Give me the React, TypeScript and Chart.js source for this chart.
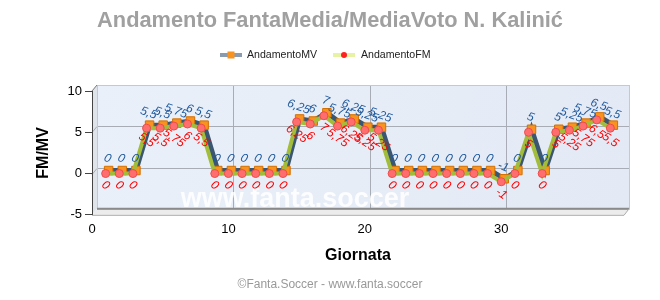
import React, { useEffect, useRef } from 'react';
import { Chart, registerables } from 'chart.js';

Chart.register(...registerables);

const rounds = [1, 2, 3, 4, 5, 6, 7, 8, 9, 10, 11, 12, 13, 14, 15, 16, 17, 18, 19, 20, 21, 22, 23, 24, 25, 26, 27, 28, 29, 30, 31, 32, 33, 34, 35, 36, 37, 38];
const mvValues = [0, 0, 0, 5.5, 5.5, 5.75, 6, 5.5, 0, 0, 0, 0, 0, 0, 6.25, 6, 7, 5.75, 6.25, 5.25, 5.25, 0, 0, 0, 0, 0, 0, 0, 0, -1, 0, 5, 0, 5, 5.25, 5.75, 6.5, 5.5];
const fmValues = [0, 0, 0, 5.5, 5.5, 5.75, 6, 5.5, 0, 0, 0, 0, 0, 0, 6.25, 6, 7, 5.75, 6.25, 5.25, 5.25, 0, 0, 0, 0, 0, 0, 0, 0, -1, 0, 5, 0, 5, 5.25, 5.75, 6.5, 5.5];
const xTicks = [0, 10, 20, 30];
const yTicks = [-5, 0, 5, 10];

const titleText = 'Andamento FantaMedia/MediaVoto N. Kalinić';
const footerText = '©Fanta.Soccer - www.fanta.soccer';
const watermarkText = 'www.fanta.soccer';
const FONT = '"Liberation Sans", Arial, sans-serif';

const DX = 5;
const DY = 6;
const MV_SHIFT = { x: 3, y: -3 };

const fmt = (v: number) => String(v).replace('.', ',');

const wallsPlugin = {
  id: 'walls',
  beforeDraw(chart: any) {
    const { ctx, chartArea } = chart;
    const { left, right, top, bottom } = chartArea;
    const xs = chart.scales.x;
    const ys = chart.scales.y;
    ctx.save();
    const g = ctx.createLinearGradient(left, top, right, bottom);
    g.addColorStop(0, '#eaf0f9');
    g.addColorStop(1, '#e4eaf5');
    ctx.fillStyle = g;
    ctx.fillRect(left + DX, top - DY, right - left, bottom - top);
    ctx.fillStyle = '#dfe3ea';
    ctx.beginPath();
    ctx.moveTo(left, top);
    ctx.lineTo(left + DX, top - DY);
    ctx.lineTo(left + DX, bottom - DY);
    ctx.lineTo(left, bottom);
    ctx.closePath();
    ctx.fill();
    ctx.fillStyle = '#ececec';
    ctx.beginPath();
    ctx.moveTo(left, bottom);
    ctx.lineTo(left + DX, bottom - DY);
    ctx.lineTo(right + DX, bottom - DY);
    ctx.lineTo(right, bottom);
    ctx.closePath();
    ctx.fill();
    ctx.strokeStyle = '#a8acb4';
    ctx.lineWidth = 1;
    xTicks.forEach((v) => {
      if (v === 0) return;
      const px = Math.round(xs.getPixelForValue(v) + DX) + 0.5;
      ctx.beginPath();
      ctx.moveTo(px, top - DY);
      ctx.lineTo(px, bottom - DY);
      ctx.stroke();
    });
    yTicks.forEach((v) => {
      if (v === -5 || v === 10) return;
      const py = Math.round(ys.getPixelForValue(v) - DY) + 0.5;
      ctx.beginPath();
      ctx.moveTo(left + DX, py);
      ctx.lineTo(right + DX, py);
      ctx.stroke();
      ctx.beginPath();
      ctx.moveTo(left, py + DY);
      ctx.lineTo(left + DX, py);
      ctx.stroke();
    });
    ctx.strokeStyle = '#c4c8d0';
    ctx.strokeRect(left + DX + 0.5, top - DY + 0.5, right - left, bottom - top);
    ctx.strokeStyle = '#8a8a8a';
    ctx.lineWidth = 2;
    ctx.beginPath();
    ctx.moveTo(left + DX, bottom - DY);
    ctx.lineTo(right + DX, bottom - DY);
    ctx.stroke();
    ctx.strokeStyle = '#aaaaaa';
    ctx.lineWidth = 1;
    ctx.beginPath();
    ctx.moveTo(left, bottom + 0.5);
    ctx.lineTo(right, bottom + 0.5);
    ctx.lineTo(right + DX, bottom - DY);
    ctx.stroke();
    ctx.strokeStyle = '#777';
    ctx.beginPath();
    ctx.moveTo(left, top);
    ctx.lineTo(left + DX, top - DY);
    ctx.stroke();
    ctx.restore();
  },
  beforeDatasetsDraw(chart: any) {
    const { ctx, chartArea } = chart;
    ctx.save();
    ctx.font = `bold 27px ${FONT}`;
    ctx.fillStyle = 'rgba(255,255,255,0.85)';
    ctx.textAlign = 'center';
    ctx.textBaseline = 'alphabetic';
    ctx.fillText(watermarkText, chartArea.left + 203, chartArea.bottom - 8);
    ctx.restore();
  },
  beforeDatasetDraw(chart: any, args: any) {
    if (args.index === 0) {
      chart.ctx.save();
      chart.ctx.translate(MV_SHIFT.x, MV_SHIFT.y);
    }
  },
  afterDatasetDraw(chart: any, args: any) {
    if (args.index === 0) {
      chart.ctx.restore();
    }
  },
  afterDatasetsDraw(chart: any) {
    const { ctx } = chart;
    ctx.save();
    ctx.font = `italic 12px ${FONT}`;
    ctx.textAlign = 'center';
    ctx.textBaseline = 'middle';
    const mvMeta = chart.getDatasetMeta(0);
    mvMeta.data.forEach((pt: any, i: number) => {
      ctx.save();
      ctx.translate(pt.x + MV_SHIFT.x - 1, pt.y + MV_SHIFT.y - 12);
      ctx.rotate((20 * Math.PI) / 180);
      ctx.fillStyle = '#1f5a9e';
      ctx.fillText(fmt(mvValues[i]), 0, 0);
      ctx.restore();
    });
    const fmMeta = chart.getDatasetMeta(1);
    fmMeta.data.forEach((pt: any, i: number) => {
      ctx.save();
      ctx.translate(pt.x, pt.y + 12);
      ctx.rotate((35 * Math.PI) / 180);
      ctx.fillStyle = '#ff0000';
      ctx.fillText(fmt(fmValues[i]), 0, 0);
      ctx.restore();
    });
    ctx.restore();
  },
  afterDraw(chart: any) {
    const { ctx } = chart;
    ctx.save();
    const y = 47;
    ctx.strokeStyle = '#8a9bb0';
    ctx.lineWidth = 4;
    ctx.beginPath();
    ctx.moveTo(212, y);
    ctx.lineTo(234, y);
    ctx.stroke();
    ctx.fillStyle = '#f7931e';
    ctx.fillRect(219.5, y - 3.5, 7, 7);
    ctx.strokeStyle = '#e8f2a4';
    ctx.beginPath();
    ctx.moveTo(325, y);
    ctx.lineTo(347, y);
    ctx.stroke();
    ctx.fillStyle = '#ff2020';
    ctx.beginPath();
    ctx.arc(336, y, 3, 0, Math.PI * 2);
    ctx.fill();
    ctx.font = `10.6px ${FONT}`;
    ctx.fillStyle = '#222';
    ctx.textAlign = 'left';
    ctx.textBaseline = 'middle';
    ctx.fillText('AndamentoMV', 239, y);
    ctx.fillText('AndamentoFM', 353, y);
    ctx.restore();
  },
};

export default function App() {
  const ref = useRef<HTMLCanvasElement>(null);

  useEffect(() => {
    if (!ref.current) return;
    Chart.defaults.font.family = FONT;
    const chart = new Chart(ref.current, {
      type: 'line',
      data: {
        datasets: [
          {
            label: 'AndamentoMV',
            data: rounds.map((r, i) => ({ x: r, y: mvValues[i] })),
            borderColor: '#3b5670',
            borderWidth: 5,
            pointStyle: 'rect',
            pointRadius: 6,
            pointBackgroundColor: '#f7931e',
            pointBorderColor: '#d46f00',
            pointBorderWidth: 1,
            order: 2,
            clip: false,
          },
          {
            label: 'AndamentoFM',
            data: rounds.map((r, i) => ({ x: r, y: fmValues[i] })),
            borderColor: '#a2bc3c',
            borderWidth: 4,
            pointStyle: 'circle',
            pointRadius: 4,
            pointBackgroundColor: '#ff6e6e',
            pointBorderColor: '#f24a4a',
            pointBorderWidth: 1,
            order: 1,
            clip: false,
          },
        ],
      },
      options: {
        animation: false,
        responsive: true,
        maintainAspectRatio: false,
        layout: { padding: 0 },
        plugins: {
          legend: { display: false },
          tooltip: { enabled: false },
          title: {
            display: true,
            text: titleText,
            color: '#a0a0a0',
            font: { size: 21.8, weight: 'bold', family: FONT },
            padding: { top: 0, bottom: 56.84 },
          },
          subtitle: {
            display: true,
            text: footerText,
            position: 'bottom',
            color: '#999999',
            font: { size: 12, family: FONT },
            padding: { top: 0, bottom: 0 },
          },
        },
        scales: {
          x: {
            type: 'linear',
            min: 0,
            max: 39,
            afterFit: (s: any) => {
              s.height = 62.8;
            },
            afterBuildTicks: (s: any) => {
              s.ticks = xTicks.map((v) => ({ value: v }));
            },
            ticks: {
              padding: 7,
              color: '#000',
              font: { size: 13, family: FONT },
              maxRotation: 0,
            },
            grid: { display: false, drawOnChartArea: false, drawTicks: false },
            border: { display: false },
            title: {
              display: true,
              text: 'Giornata',
              color: '#000',
              font: { size: 16, weight: 'bold', family: FONT },
              padding: { top: 0, bottom: 12.2 },
            },
          },
          y: {
            type: 'linear',
            min: -5,
            max: 10,
            afterFit: (s: any) => {
              s.width = 84;
            },
            afterBuildTicks: (s: any) => {
              s.ticks = yTicks.map((v) => ({ value: v }));
            },
            ticks: {
              padding: 3,
              color: '#000',
              font: { size: 13, family: FONT },
            },
            grid: {
              display: true,
              drawOnChartArea: false,
              drawTicks: true,
              tickLength: 7,
              color: '#444',
            },
            border: { display: true, color: '#444', width: 1 },
            title: {
              display: true,
              text: 'FM/MV',
              color: '#000',
              font: { size: 16, weight: 'bold', family: FONT },
              padding: { top: 25.5, bottom: 0 },
            },
          },
          yRight: {
            type: 'linear',
            position: 'right',
            min: -5,
            max: 10,
            display: true,
            afterFit: (s: any) => {
              s.width = 28;
            },
            ticks: { display: false },
            grid: { display: false, drawTicks: false },
            border: { display: false },
          },
        },
      },
      plugins: [wallsPlugin],
    });
    return () => chart.destroy();
  }, []);

  return (
    <div style={{ position: 'relative', width: 644, height: 284 }}>
      <canvas ref={ref} />
    </div>
  );
}
